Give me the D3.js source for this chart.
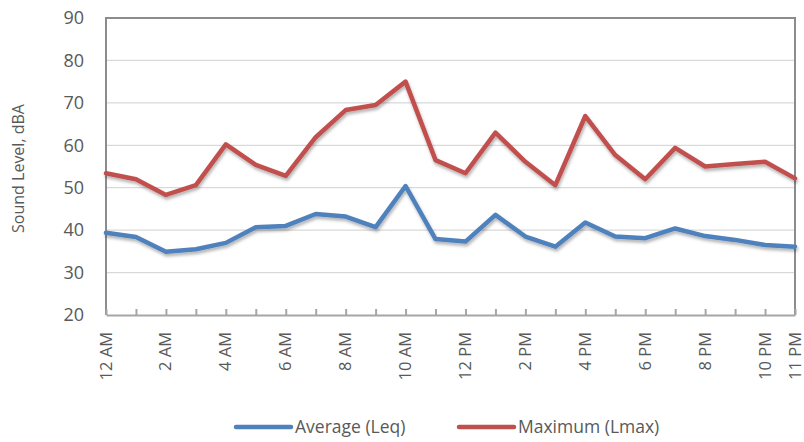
<!DOCTYPE html>
<html>
<head>
<meta charset="utf-8">
<script src="https://cdn.jsdelivr.net/npm/d3@7"></script>
<style>
  html, body { margin: 0; padding: 0; background: #fff; }
  svg { display: block; }
  text { font-family: "Open Sans", "Noto Sans", sans-serif; fill: #595959; }
</style>
</head>
<body>
<svg id="chart" width="804" height="442"></svg>
<script>
const hours = ["12 AM","1 AM","2 AM","3 AM","4 AM","5 AM","6 AM","7 AM","8 AM","9 AM","10 AM","11 AM",
               "12 PM","1 PM","2 PM","3 PM","4 PM","5 PM","6 PM","7 PM","8 PM","9 PM","10 PM","11 PM"];
const averageLeq = [39.4,38.4,34.9,35.5,37.0,40.7,41.0,43.8,43.2,40.7,50.4,37.9,
                    37.3,43.6,38.5,36.1,41.8,38.5,38.1,40.4,38.6,37.7,36.5,36.1];
const maximumLmax = [53.4,52.0,48.3,50.6,60.2,55.4,52.8,61.9,68.3,69.5,75.0,56.5,
                     53.4,63.0,56.1,50.6,66.9,57.7,52.0,59.4,55.0,55.6,56.1,52.2];
const xTickLabels = ["12 AM","2 AM","4 AM","6 AM","8 AM","10 AM","12 PM","2 PM","4 PM","6 PM","8 PM","10 PM","11 PM"];
const yTicks = [20,30,40,50,60,70,80,90];
const seriesNames = ["Average (Leq)", "Maximum (Lmax)"];
const seriesColors = ["#4F81BD", "#C0504D"];

const svg = d3.select("#chart");
const L = 106, R = 795, T = 18, B = 315;

const x = d3.scalePoint().domain(hours).range([L, R]);
const y = d3.scaleLinear().domain([20, 90]).range([B, T]);

// shadow filter
const defs = svg.append("defs");
const f = defs.append("filter").attr("id", "shadow").attr("x", "-5%").attr("y", "-10%").attr("width", "110%").attr("height", "130%");
f.append("feDropShadow").attr("dx", 1).attr("dy", 2.5).attr("stdDeviation", 1.5).attr("flood-color", "#000").attr("flood-opacity", 0.3);

// gridlines
svg.append("g").selectAll("line").data(yTicks.filter(d => d !== 20 && d !== 90)).join("line")
  .attr("x1", L).attr("x2", R).attr("y1", d => y(d)).attr("y2", d => y(d))
  .attr("stroke", "#D9D9D9").attr("stroke-width", 1.3);

// border (top/right/left)
svg.append("path")
  .attr("d", `M${L},${B} L${L},${T} L${R},${T} L${R},${B}`)
  .attr("fill", "none").attr("stroke", "#8C8C8C").attr("stroke-width", 2);

// x axis with inward ticks
const xAxis = d3.axisBottom(x).tickSizeInner(-6).tickSizeOuter(0).tickFormat("");
const gx = svg.append("g").attr("transform", `translate(0,${B})`).call(xAxis);
gx.select(".domain").attr("stroke", "#A6A6A6").attr("stroke-width", 2);
gx.selectAll(".tick line").attr("stroke", "#A6A6A6").attr("stroke-width", 2);

// x labels rotated
svg.append("g").selectAll("text").data(xTickLabels).join("text")
  .attr("transform", d => `translate(${x(d) + 5.5},${B + 17}) rotate(-90)`)
  .attr("text-anchor", "end")
  .attr("font-size", 16.5)
  .text(d => d);

// y axis labels
const yAxis = d3.axisLeft(y).tickValues(yTicks).tickSize(0).tickPadding(22);
const gy = svg.append("g").attr("transform", `translate(${L},0)`).call(yAxis);
gy.select(".domain").remove();
gy.selectAll("text").attr("font-size", 18).attr("font-family", "'Open Sans', sans-serif").attr("fill", "#595959");

// y title
svg.append("text")
  .attr("transform", `translate(24,${(T + B) / 2 + 2}) rotate(-90)`)
  .attr("text-anchor", "middle")
  .attr("font-size", 16)
  .text("Sound Level, dBA");

// lines
const line = d3.line().x((d, i) => x(hours[i])).y(d => y(d));
[averageLeq, maximumLmax].forEach((data, k) => {
  svg.append("path").datum(data)
    .attr("d", line)
    .attr("fill", "none")
    .attr("stroke", seriesColors[k])
    .attr("stroke-width", 4.5)
    .attr("stroke-linejoin", "round")
    .attr("stroke-linecap", "round")
    .attr("filter", "url(#shadow)");
});

// legend
const legendY = 427;
const legendItems = [{x1: 236, x2: 291, tx: 295}, {x1: 459, x2: 514, tx: 518}];
legendItems.forEach((it, k) => {
  svg.append("line").attr("x1", it.x1).attr("x2", it.x2).attr("y1", legendY).attr("y2", legendY)
    .attr("stroke", seriesColors[k]).attr("stroke-width", 4.5).attr("stroke-linecap", "round");
  svg.append("text").attr("x", it.tx).attr("y", legendY).attr("dy", "0.35em")
    .attr("font-size", 17.5).text(seriesNames[k]);
});
</script>
</body>
</html>
